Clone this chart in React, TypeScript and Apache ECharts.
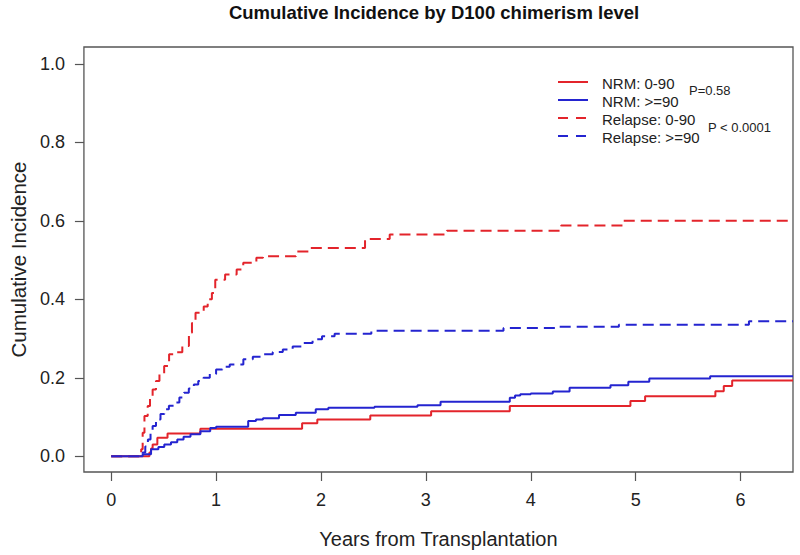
import React, { useEffect, useRef } from "react";
import * as echarts from "echarts";

// ---- data ----
const nrmLowT = [0, 0.364, 0.38, 0.395, 0.44, 0.537, 0.85, 1.82, 1.965, 2.47, 3.05, 3.8, 4.95, 5.09, 5.76, 5.84, 5.92, 6.5];
const nrmLowV = [0, 0.01, 0.02, 0.03, 0.047, 0.058, 0.07, 0.084, 0.094, 0.104, 0.115, 0.128, 0.141, 0.153, 0.166, 0.179, 0.193, 0.193];

const nrmHighT = [0, 0.3, 0.38, 0.45, 0.506, 0.57, 0.63, 0.69, 0.756, 0.85, 0.944, 1.0, 1.306, 1.38, 1.447, 1.6, 1.76, 1.95, 2.07, 2.51, 2.92, 3.14, 3.8, 3.85, 3.9, 4.0, 4.21, 4.37, 4.76, 4.93, 5.13, 5.71, 6.5];
const nrmHighV = [0, 0.005, 0.018, 0.024, 0.03, 0.036, 0.043, 0.05, 0.056, 0.064, 0.072, 0.075, 0.09, 0.094, 0.097, 0.105, 0.111, 0.12, 0.124, 0.126, 0.13, 0.139, 0.149, 0.155, 0.158, 0.16, 0.165, 0.175, 0.181, 0.19, 0.198, 0.204, 0.204];

const relLowT = [0, 0.286, 0.3, 0.317, 0.348, 0.37, 0.395, 0.427, 0.46, 0.505, 0.552, 0.6, 0.678, 0.741, 0.77, 0.804, 0.882, 0.92, 0.96, 0.992, 1.086, 1.196, 1.259, 1.384, 1.447, 1.761, 1.886, 2.42, 2.655, 3.2, 4.29, 4.88, 6.5];
const relLowV = [0, 0.018, 0.06, 0.103, 0.128, 0.15, 0.17, 0.192, 0.21, 0.23, 0.26, 0.265, 0.281, 0.315, 0.34, 0.366, 0.382, 0.4, 0.416, 0.45, 0.463, 0.476, 0.493, 0.506, 0.51, 0.522, 0.531, 0.554, 0.565, 0.575, 0.588, 0.6, 0.6];

const relHighT = [0, 0.3, 0.325, 0.35, 0.375, 0.395, 0.427, 0.47, 0.506, 0.55, 0.6, 0.65, 0.694, 0.74, 0.788, 0.83, 0.88, 0.94, 1.0, 1.06, 1.13, 1.26, 1.35, 1.447, 1.54, 1.636, 1.73, 1.82, 1.92, 2.01, 2.13, 2.48, 3.74, 4.27, 4.84, 6.08, 6.5];
const relHighV = [0, 0.01, 0.025, 0.043, 0.06, 0.077, 0.094, 0.108, 0.12, 0.129, 0.137, 0.15, 0.162, 0.173, 0.183, 0.192, 0.2, 0.21, 0.221, 0.228, 0.234, 0.247, 0.254, 0.26, 0.266, 0.272, 0.28, 0.289, 0.298, 0.306, 0.312, 0.32, 0.327, 0.33, 0.335, 0.344, 0.344];

const xTicks = [0, 1, 2, 3, 4, 5, 6];
const yTicks = [0, 0.2, 0.4, 0.6, 0.8, 1.0];

const seriesNames = ["NRM: 0-90", "NRM: >=90", "Relapse: 0-90", "Relapse: >=90"];
const pLabels = ["P=0.58", "P < 0.0001"];

const RED = "#e3242b";
const BLUE = "#2424d0";
const FONT = "'Liberation Sans', Arial, Helvetica, sans-serif";
const DASH = [11, 6];

const pairs = (t: number[], v: number[]) => t.map((x, i) => [x, v[i]]);

export default function App() {
  const ref = useRef<HTMLDivElement>(null);
  useEffect(() => {
    if (!ref.current) return;
    const chart = echarts.init(ref.current, null, { renderer: "svg" });
    const colors = [RED, BLUE, RED, BLUE];
    const dashes: any[] = ["solid", "solid", DASH, DASH];
    const datasets = [
      pairs(nrmLowT, nrmLowV),
      pairs(nrmHighT, nrmHighV),
      pairs(relLowT, relLowV),
      pairs(relHighT, relHighV),
    ];
    const legendYs = [82, 100, 118, 136];
    const legendGraphics: any[] = [];
    seriesNames.forEach((n, i) => {
      legendGraphics.push({
        type: "line",
        shape: { x1: 558, y1: legendYs[i], x2: 588, y2: legendYs[i] },
        style: { stroke: colors[i], lineWidth: 2, lineDash: i >= 2 ? [10, 8] : null },
      });
      legendGraphics.push({
        type: "text",
        x: 602,
        y: legendYs[i] + 1,
        style: { text: n, font: `15px ${FONT}`, fill: "#222", textVerticalAlign: "middle", textAlign: "left" },
      });
    });
    legendGraphics.push({
      type: "text", x: 689, y: 90,
      style: { text: pLabels[0], font: `13px ${FONT}`, fill: "#222", textVerticalAlign: "middle" },
    });
    legendGraphics.push({
      type: "text", x: 708, y: 127,
      style: { text: pLabels[1], font: `13px ${FONT}`, fill: "#222", textVerticalAlign: "middle" },
    });

    chart.setOption({
      animation: false,
      backgroundColor: "#ffffff",
      grid: {
        left: 76, right: 7, top: 47, bottom: 83,
        show: true, borderColor: "#555", borderWidth: 1.3, backgroundColor: "transparent",
      },
      xAxis: {
        type: "value", min: -0.26, max: 6.5,
        axisLine: { show: false, onZero: false },
        splitLine: { show: false },
        axisTick: { show: true, customValues: xTicks, length: 9, lineStyle: { color: "#555", width: 1.2 } },
        axisLabel: { customValues: xTicks, fontSize: 18, margin: 19, color: "#222", fontFamily: FONT },
        name: "Years from Transplantation", nameLocation: "middle", nameGap: 57,
        nameTextStyle: { fontSize: 20, color: "#222", fontFamily: FONT },
      },
      yAxis: {
        type: "value", min: -0.04, max: 1.043,
        axisLine: { show: false, onZero: false },
        splitLine: { show: false },
        axisTick: { show: true, customValues: yTicks, length: 9, lineStyle: { color: "#555", width: 1.2 } },
        axisLabel: {
          customValues: yTicks, fontSize: 18, margin: 19, color: "#222", fontFamily: FONT,
          formatter: (v: number) => v.toFixed(1),
        },
        name: "Cumulative Incidence", nameLocation: "middle", nameGap: 52,
        nameTextStyle: { fontSize: 20.5, color: "#222", fontFamily: FONT },
      },
      graphic: [
        {
          type: "text", x: 434, y: 12,
          style: {
            text: "Cumulative Incidence by D100 chimerism level",
            font: `bold 18.5px ${FONT}`, fill: "#111", textAlign: "center", textVerticalAlign: "middle",
          },
        },
        ...legendGraphics,
      ],
      series: datasets.map((d, i) => ({
        name: seriesNames[i],
        type: "line",
        step: "end",
        showSymbol: false,
        symbol: "none",
        data: d,
        lineStyle: { color: colors[i], width: 2, type: dashes[i] },
        itemStyle: { color: colors[i] },
        z: 2 + i,
      })),
    });
    return () => chart.dispose();
  }, []);
  return <div ref={ref} style={{ width: 800, height: 555, position: "absolute", left: 0, top: 0 }} />;
}
